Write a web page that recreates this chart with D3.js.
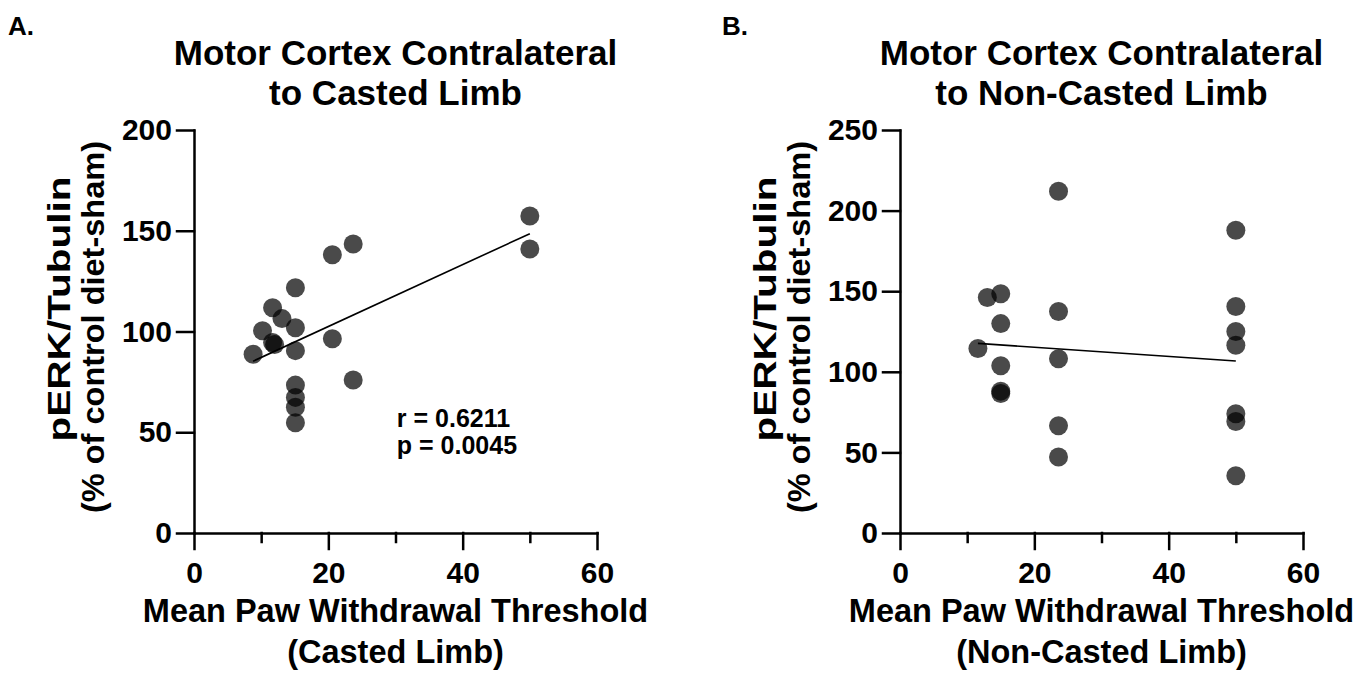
<!DOCTYPE html>
<html>
<head>
<meta charset="utf-8">
<script src="https://cdnjs.cloudflare.com/ajax/libs/d3/7.8.5/d3.min.js"></script>
<style>
  body { margin: 0; background: #fff; }
  svg text { font-family: "Liberation Sans", Arial, Helvetica, sans-serif; font-weight: bold; fill: #000; }
</style>
</head>
<body>
<svg id="chart" width="1371" height="681"></svg>
<script>
// Panel A - motor cortex contralateral to casted limb
var castedX = [50, 50, 20.6, 23.7, 15.1, 11.7, 13.1, 10.2, 15.1, 11.7, 12.0, 8.8, 15.1, 20.6, 23.7, 15.1, 15.1, 15.1, 15.1];
var castedY = [157.3, 140.9, 138.1, 143.4, 121.7, 111.8, 106.4, 100.4, 101.9, 94.5, 93.5, 88.7, 90.5, 96.4, 75.9, 73.4, 67.3, 62.4, 54.7];

// Panel B - motor cortex contralateral to non-casted limb
var nonCastedX = [23.6, 50, 13, 15, 15, 23.6, 50, 50, 50, 11.6, 23.6, 15, 15, 15, 23.6, 23.6, 50, 50, 50];
var nonCastedY = [212, 187.8, 146.1, 148.4, 129.9, 137.4, 140.5, 125, 116.5, 114.5, 108.1, 103.7, 88, 86.5, 66.5, 47.1, 74, 69.2, 35.5];

var xTicks = [0, 20, 40, 60];
var xMinorTicks = [10, 30, 50];
var yTicksA = [0, 50, 100, 150, 200];
var yTicksB = [0, 50, 100, 150, 200, 250];

var titleA = ["Motor Cortex Contralateral", "to Casted Limb"];
var titleB = ["Motor Cortex Contralateral", "to Non-Casted Limb"];
var xTitleA = ["Mean Paw Withdrawal Threshold", "(Casted Limb)"];
var xTitleB = ["Mean Paw Withdrawal Threshold", "(Non-Casted Limb)"];
var yTitle = ["pERK/Tubulin", "(% of control diet-sham)"];
var statsA = ["r = 0.6211", "p = 0.0045"];

var svg = d3.select("#chart");

// least squares fit, returns [x0,y0,x1,y1] in data units
var fitLine = function(xs, ys) {
  var mx = d3.mean(xs);
  var my = d3.mean(ys);
  var sxy = 0;
  var sxx = 0;
  xs.forEach(function(x, i) {
    sxy += (x - mx) * (ys[i] - my);
    sxx += (x - mx) * (x - mx);
  });
  var slope = sxy / sxx;
  var icpt = my - slope * mx;
  var x0 = d3.min(xs);
  var x1 = d3.max(xs);
  return [x0, icpt + slope * x0, x1, icpt + slope * x1];
};

var drawPanel = function(opts) {
  var x = d3.scaleLinear().domain([0, 60]).range([opts.left, opts.left + 403]);
  var y = d3.scaleLinear().domain([0, opts.yMax]).range([533, 130]);
  var cx = opts.left + 201.5;

  var g = svg.append("g");

  // panel letter
  g.append("text")
    .attr("x", opts.letterX)
    .attr("y", 35)
    .style("font-size", "26px")
    .text(opts.letter);

  // title
  opts.title.forEach(function(t, i) {
    g.append("text")
      .attr("x", cx)
      .attr("y", 65 + i * 40)
      .attr("text-anchor", "middle")
      .style("font-size", "35px")
      .text(t);
  });

  // axes
  var yAxis = d3.axisLeft(y)
    .tickValues(opts.yTicks)
    .tickSize(17)
    .tickSizeOuter(0)
    .tickPadding(5);
  var xAxis = d3.axisBottom(x)
    .tickValues(xTicks)
    .tickSize(16)
    .tickSizeOuter(0)
    .tickPadding(13);
  var xMinor = d3.axisBottom(x)
    .tickValues(xMinorTicks)
    .tickSize(9)
    .tickFormat("");

  var ya = g.append("g")
    .attr("transform", "translate(" + opts.left + ",0)")
    .call(yAxis);
  var xa = g.append("g")
    .attr("transform", "translate(0,533)")
    .call(xAxis);
  var xm = g.append("g")
    .attr("transform", "translate(0,533)")
    .call(xMinor);
  xm.select(".domain").remove();

  [ya, xa, xm].forEach(function(a) {
    a.selectAll("path, line")
      .attr("stroke", "#000")
      .attr("stroke-width", 2.5)
      .attr("stroke-linecap", "square");
    a.selectAll("text")
      .style("font-size", "30px")
      .style("font-family", "'Liberation Sans', Arial, sans-serif")
      .style("font-weight", "bold")
      .attr("fill", "#000");
  });

  // axis titles
  opts.xTitle.forEach(function(t, i) {
    g.append("text")
      .attr("x", cx)
      .attr("y", 622 + i * 41)
      .attr("text-anchor", "middle")
      .style("font-size", "32.5px")
      .text(t);
  });
  var yCenters = [309, 327];
  var yBase = [70, 104];
  var yLen = [265, 372];
  yTitle.forEach(function(t, i) {
    g.append("text")
      .attr("transform", "translate(" + (opts.left - 194 + yBase[i]) + "," + yCenters[i] + ") rotate(-90)")
      .attr("text-anchor", "middle")
      .attr("textLength", yLen[i])
      .attr("lengthAdjust", "spacingAndGlyphs")
      .style("font-size", "32px")
      .text(t);
  });

  // regression line
  var f = fitLine(opts.xs, opts.ys);
  g.append("line")
    .attr("x1", x(f[0]))
    .attr("y1", y(f[1]))
    .attr("x2", x(f[2]))
    .attr("y2", y(f[3]))
    .attr("stroke", "#000")
    .attr("stroke-width", 1.6);

  // points
  g.selectAll("circle.pt")
    .data(opts.xs)
    .enter()
    .append("circle")
    .attr("class", "pt")
    .attr("cx", function(d) { return x(d); })
    .attr("cy", function(d, i) { return y(opts.ys[i]); })
    .attr("r", 9.5)
    .attr("fill", "#000")
    .attr("fill-opacity", 0.71);

  if (opts.stats) {
    opts.stats.forEach(function(t, i) {
      g.append("text")
        .attr("x", x(30.2))
        .attr("y", 427 + i * 27)
        .style("font-size", "25px")
        .text(t);
    });
  }
};

drawPanel({
  letter: "A.",
  letterX: 8,
  left: 194,
  yMax: 200,
  yTicks: yTicksA,
  title: titleA,
  xTitle: xTitleA,
  xs: castedX,
  ys: castedY,
  stats: statsA
});

drawPanel({
  letter: "B.",
  letterX: 722,
  left: 900,
  yMax: 250,
  yTicks: yTicksB,
  title: titleB,
  xTitle: xTitleB,
  xs: nonCastedX,
  ys: nonCastedY,
  stats: null
});
</script>
</body>
</html>
